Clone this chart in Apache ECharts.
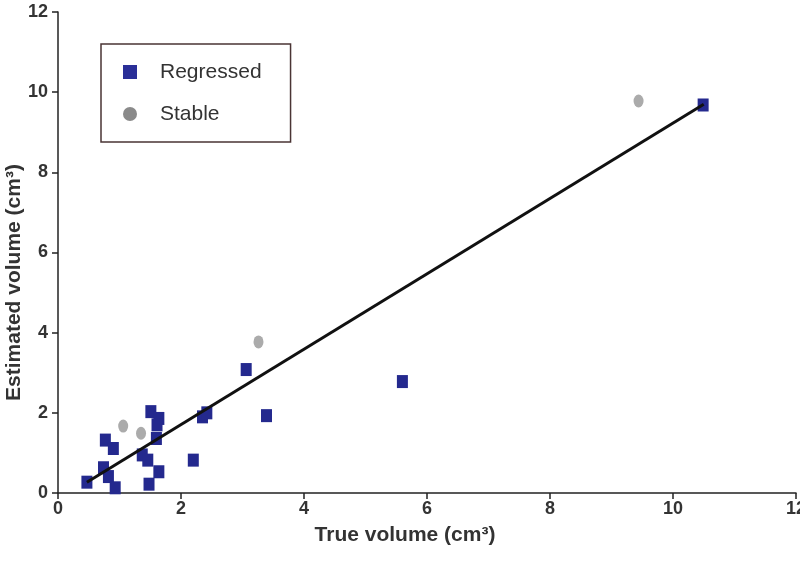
<!DOCTYPE html>
<html>
<head>
<meta charset="utf-8">
<script src="https://cdn.jsdelivr.net/npm/echarts@6/dist/echarts.min.js"></script>
<style>html,body{margin:0;padding:0;background:#fff}#c{width:800px;height:575px}</style>
</head>
<body>
<div id="c"></div>
<script>
// Regressed lesions (true volume, estimated volume), cm3
var regX = [0.47, 0.74, 0.82, 0.93, 0.77, 0.90, 1.51, 1.64, 1.61, 1.60, 1.37, 1.46, 1.64, 1.48, 2.20, 2.35, 2.42, 3.06, 3.39, 5.60, 10.49];
var regY = [0.27, 0.63, 0.41, 0.13, 1.32, 1.11, 2.03, 1.86, 1.70, 1.36, 0.95, 0.82, 0.53, 0.22, 0.82, 1.90, 2.00, 3.08, 1.93, 2.78, 9.68];
// Stable lesions
var stableX = [1.06, 1.35, 3.26, 9.44];
var stableY = [1.67, 1.49, 3.77, 9.78];
// Regression line endpoints
var fitX = [0.47, 10.50];
var fitY = [0.27, 9.70];

function pairs(xs, ys){ return xs.map(function(x,i){ return [x, ys[i]]; }); }

var font = 'Liberation Sans, Arial, sans-serif';
var chart = echarts.init(document.getElementById('c'), null, {renderer:'canvas'});
chart.setOption({
  animation:false,
  backgroundColor:'#fff',
  grid:{left:58, right:4, top:12, bottom:82, containLabel:false, outerBoundsMode:'none'},
  legend:{
    orient:'vertical', left:101, top:44,
    padding:[17,29,17,22], itemGap:20,
    itemWidth:14, itemHeight:14,
    borderColor:'#4a3434', borderWidth:1.5,
    textStyle:{fontFamily:font, fontSize:21, lineHeight:22, color:'#333', padding:[0,0,0,18]},
    data:[
      {name:'Regressed', icon:'rect', itemStyle:{color:'#2a2f98', opacity:1}},
      {name:'Stable', icon:'circle', itemStyle:{color:'#8a8a8a', opacity:1}}
    ]
  },
  xAxis:{
    type:'value', min:0, max:12, interval:2,
    name:'True volume (cm³)', nameLocation:'middle', nameGap:32,
    nameTextStyle:{fontFamily:font, fontSize:21, fontWeight:'bold', color:'#333', padding:[0,44,0,0]},
    axisLine:{lineStyle:{color:'#222', width:1.5}},
    axisTick:{show:true, inside:false, length:6, lineStyle:{color:'#222', width:1.5}},
    axisLabel:{fontFamily:font, fontSize:18, fontWeight:'bold', color:'#333', margin:7},
    splitLine:{show:false}
  },
  yAxis:{
    type:'value', min:0, max:12, interval:2,
    name:'Estimated volume (cm³)', nameLocation:'middle', nameGap:33, nameRotate:90,
    nameMoveOverlap:false,
    nameTextStyle:{fontFamily:font, fontSize:21, fontWeight:'bold', color:'#333', padding:[0,60,0,0]},
    axisLine:{lineStyle:{color:'#222', width:1.5}},
    axisTick:{show:true, inside:false, length:6, lineStyle:{color:'#222', width:1.5}},
    axisLabel:{fontFamily:font, fontSize:18, fontWeight:'bold', color:'#333', margin:10},
    splitLine:{show:false}
  },
  series:[
    {
      name:'Fit', type:'line', data:pairs(fitX, fitY), symbol:'none',
      lineStyle:{color:'#111', width:3}, z:3, silent:true
    },
    {
      name:'Regressed', type:'scatter', data:pairs(regX, regY),
      symbol:'rect', symbolSize:[11,13],
      itemStyle:{color:'#24298e', opacity:1}, z:2
    },
    {
      name:'Stable', type:'scatter', data:pairs(stableX, stableY),
      symbol:'circle', symbolSize:[10,13],
      itemStyle:{color:'#ababab', opacity:1}, z:2
    }
  ]
});
</script>
</body>
</html>
